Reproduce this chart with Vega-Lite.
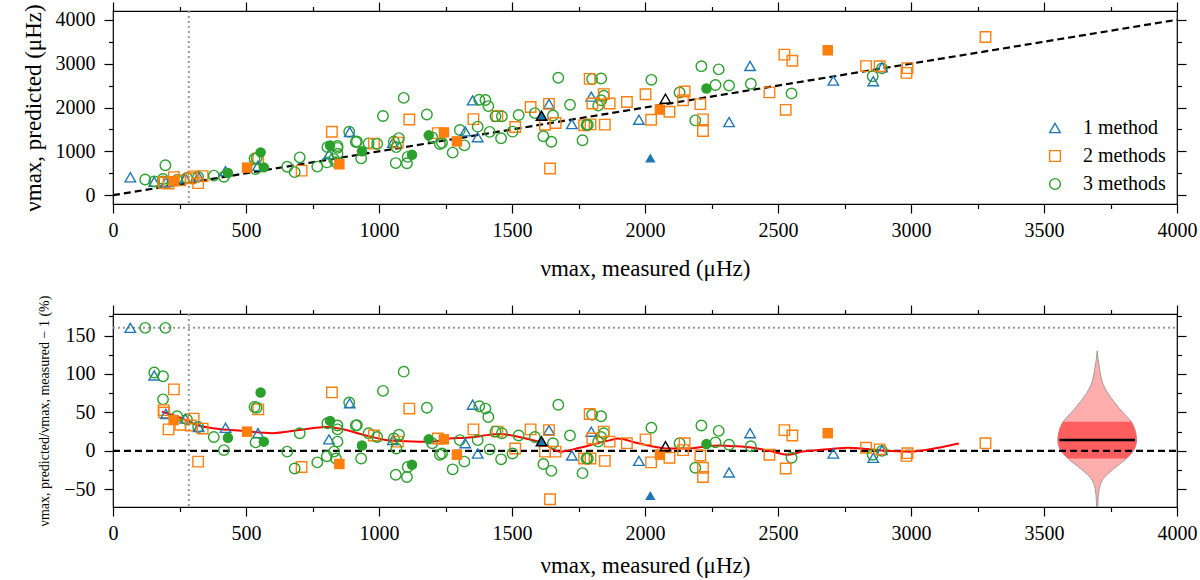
{
  "$schema": "https://vega.github.io/schema/vega-lite/v6.json",
  "padding": {"left": 21, "top": 0, "right": 2, "bottom": 5},
  "datasets": {
    "pts": [
      {"meas":65,"pred":409,"resid":160,"grp":"1 method","fill":0},
      {"meas":121,"pred":357,"resid":160,"grp":"3 methods","fill":0},
      {"meas":197,"pred":682,"resid":160,"grp":"3 methods","fill":0},
      {"meas":155,"pred":307,"resid":98,"grp":"1 method","fill":0},
      {"meas":155,"pred":313,"resid":102,"grp":"3 methods","fill":0},
      {"meas":188,"pred":370,"resid":97,"grp":"3 methods","fill":0},
      {"meas":229,"pred":412,"resid":80,"grp":"2 methods","fill":0},
      {"meas":188,"pred":314,"resid":67,"grp":"3 methods","fill":0},
      {"meas":190,"pred":291,"resid":53,"grp":"2 methods","fill":0},
      {"meas":192,"pred":288,"resid":50,"grp":"2 methods","fill":0},
      {"meas":199,"pred":295,"resid":48,"grp":"1 method","fill":0},
      {"meas":228,"pred":319,"resid":40,"grp":"2 methods","fill":1},
      {"meas":241,"pred":349,"resid":45,"grp":"3 methods","fill":0},
      {"meas":209,"pred":268,"resid":28,"grp":"2 methods","fill":0},
      {"meas":253,"pred":339,"resid":34,"grp":"2 methods","fill":0},
      {"meas":272,"pred":386,"resid":42,"grp":"1 method","fill":0},
      {"meas":278,"pred":392,"resid":41,"grp":"3 methods","fill":0},
      {"meas":303,"pred":430,"resid":42,"grp":"2 methods","fill":0},
      {"meas":292,"pred":388,"resid":33,"grp":"2 methods","fill":0},
      {"meas":320,"pred":419,"resid":31,"grp":"3 methods","fill":0},
      {"meas":322,"pred":422,"resid":31,"grp":"1 method","fill":0},
      {"meas":337,"pred":435,"resid":29,"grp":"2 methods","fill":0},
      {"meas":320,"pred":275,"resid":-14,"grp":"2 methods","fill":0},
      {"meas":379,"pred":447,"resid":18,"grp":"3 methods","fill":0},
      {"meas":423,"pred":550,"resid":30,"grp":"1 method","fill":0},
      {"meas":432,"pred":505,"resid":17,"grp":"3 methods","fill":1},
      {"meas":417,"pred":421,"resid":1,"grp":"3 methods","fill":0},
      {"meas":504,"pred":630,"resid":25,"grp":"2 methods","fill":1},
      {"meas":532,"pred":835,"resid":57,"grp":"3 methods","fill":0},
      {"meas":546,"pred":841,"resid":54,"grp":"2 methods","fill":0},
      {"meas":540,"pred":842,"resid":56,"grp":"3 methods","fill":0},
      {"meas":555,"pred":977,"resid":76,"grp":"3 methods","fill":1},
      {"meas":545,"pred":670,"resid":23,"grp":"1 method","fill":0},
      {"meas":536,"pred":595,"resid":11,"grp":"3 methods","fill":0},
      {"meas":567,"pred":635,"resid":12,"grp":"3 methods","fill":1},
      {"meas":655,"pred":648,"resid":-1,"grp":"3 methods","fill":0},
      {"meas":702,"pred":863,"resid":23,"grp":"3 methods","fill":0},
      {"meas":709,"pred":560,"resid":-21,"grp":"2 methods","fill":0},
      {"meas":683,"pred":526,"resid":-23,"grp":"3 methods","fill":0},
      {"meas":768,"pred":653,"resid":-15,"grp":"3 methods","fill":0},
      {"meas":823,"pred":1448,"resid":76,"grp":"2 methods","fill":0},
      {"meas":804,"pred":748,"resid":-7,"grp":"3 methods","fill":0},
      {"meas":812,"pred":934,"resid":15,"grp":"1 method","fill":0},
      {"meas":806,"pred":1096,"resid":36,"grp":"3 methods","fill":0},
      {"meas":816,"pred":1134,"resid":39,"grp":"3 methods","fill":1},
      {"meas":844,"pred":1123,"resid":33,"grp":"3 methods","fill":0},
      {"meas":844,"pred":1080,"resid":28,"grp":"3 methods","fill":0},
      {"meas":844,"pred":945,"resid":12,"grp":"3 methods","fill":0},
      {"meas":831,"pred":823,"resid":-1,"grp":"3 methods","fill":0},
      {"meas":838,"pred":754,"resid":-10,"grp":"3 methods","fill":0},
      {"meas":851,"pred":706,"resid":-17,"grp":"2 methods","fill":1},
      {"meas":888,"pred":1447,"resid":63,"grp":"3 methods","fill":0},
      {"meas":890,"pred":1442,"resid":62,"grp":"1 method","fill":0},
      {"meas":913,"pred":1214,"resid":33,"grp":"3 methods","fill":0},
      {"meas":917,"pred":1224,"resid":33.5,"grp":"3 methods","fill":0},
      {"meas":936,"pred":1002,"resid":7,"grp":"3 methods","fill":1},
      {"meas":933,"pred":840,"resid":-10,"grp":"3 methods","fill":0},
      {"meas":961,"pred":1182,"resid":23,"grp":"3 methods","fill":0},
      {"meas":981,"pred":1177,"resid":20,"grp":"2 methods","fill":0},
      {"meas":993,"pred":1172,"resid":18,"grp":"3 methods","fill":0},
      {"meas":1015,"pred":1807,"resid":78,"grp":"3 methods","fill":0},
      {"meas":1093,"pred":2219,"resid":103,"grp":"3 methods","fill":0},
      {"meas":1114,"pred":1727,"resid":55,"grp":"2 methods","fill":0},
      {"meas":1180,"pred":1841,"resid":56,"grp":"3 methods","fill":0},
      {"meas":1052,"pred":1199,"resid":14,"grp":"1 method","fill":0},
      {"meas":1056,"pred":1225,"resid":16,"grp":"3 methods","fill":0},
      {"meas":1071,"pred":1200,"resid":12,"grp":"2 methods","fill":0},
      {"meas":1075,"pred":1301,"resid":21,"grp":"3 methods","fill":0},
      {"meas":1065,"pred":1097,"resid":3,"grp":"3 methods","fill":0},
      {"meas":1063,"pred":733,"resid":-31,"grp":"3 methods","fill":0},
      {"meas":1108,"pred":875,"resid":-21,"grp":"3 methods","fill":0},
      {"meas":1105,"pred":729,"resid":-34,"grp":"3 methods","fill":0},
      {"meas":1124,"pred":922,"resid":-18,"grp":"3 methods","fill":1},
      {"meas":1187,"pred":1365,"resid":15,"grp":"3 methods","fill":1},
      {"meas":1200,"pred":1320,"resid":10,"grp":"3 methods","fill":0},
      {"meas":1221,"pred":1416,"resid":16,"grp":"2 methods","fill":0},
      {"meas":1244,"pred":1431,"resid":15,"grp":"2 methods","fill":1},
      {"meas":1237,"pred":1194,"resid":-3.5,"grp":"3 methods","fill":0},
      {"meas":1229,"pred":1168,"resid":-5,"grp":"3 methods","fill":0},
      {"meas":1293,"pred":1228,"resid":-5,"grp":"2 methods","fill":1},
      {"meas":1277,"pred":971,"resid":-24,"grp":"3 methods","fill":0},
      {"meas":1321,"pred":1136,"resid":-14,"grp":"3 methods","fill":0},
      {"meas":1304,"pred":1487,"resid":14,"grp":"3 methods","fill":0},
      {"meas":1324,"pred":1456,"resid":10,"grp":"1 method","fill":0},
      {"meas":1352,"pred":2163,"resid":60,"grp":"1 method","fill":0},
      {"meas":1377,"pred":2176,"resid":58,"grp":"3 methods","fill":0},
      {"meas":1400,"pred":2170,"resid":55,"grp":"3 methods","fill":0},
      {"meas":1411,"pred":2032,"resid":44,"grp":"3 methods","fill":0},
      {"meas":1355,"pred":1734,"resid":28,"grp":"2 methods","fill":0},
      {"meas":1371,"pred":1563,"resid":14,"grp":"3 methods","fill":0},
      {"meas":1371,"pred":1323,"resid":-3.5,"grp":"1 method","fill":0},
      {"meas":1416,"pred":1444,"resid":2,"grp":"3 methods","fill":0},
      {"meas":1459,"pred":1299,"resid":-11,"grp":"3 methods","fill":0},
      {"meas":1445,"pred":1806,"resid":25,"grp":"2 methods","fill":0},
      {"meas":1438,"pred":1798,"resid":25,"grp":"3 methods","fill":0},
      {"meas":1462,"pred":1798,"resid":23,"grp":"3 methods","fill":0},
      {"meas":1512,"pred":1557,"resid":3,"grp":"2 methods","fill":0},
      {"meas":1502,"pred":1449,"resid":-3.5,"grp":"3 methods","fill":0},
      {"meas":1525,"pred":1830,"resid":20,"grp":"3 methods","fill":0},
      {"meas":1570,"pred":2010,"resid":28,"grp":"2 methods","fill":0},
      {"meas":1586,"pred":1871,"resid":18,"grp":"3 methods","fill":0},
      {"meas":1611,"pred":1812,"resid":12.5,"grp":"1 method","fill":1,"edge":1},
      {"meas":1639,"pred":2082,"resid":27,"grp":"1 method","fill":0},
      {"meas":1639,"pred":2082,"resid":27,"grp":"2 methods","fill":0},
      {"meas":1654,"pred":1819,"resid":10,"grp":"3 methods","fill":0},
      {"meas":1624,"pred":1608,"resid":-1,"grp":"2 methods","fill":0},
      {"meas":1664,"pred":1647,"resid":-1,"grp":"2 methods","fill":0},
      {"meas":1618,"pred":1343,"resid":-17,"grp":"3 methods","fill":0},
      {"meas":1648,"pred":1220,"resid":-26,"grp":"3 methods","fill":0},
      {"meas":1643,"pred":608,"resid":-63,"grp":"2 methods","fill":0},
      {"meas":1674,"pred":2678,"resid":60,"grp":"3 methods","fill":0},
      {"meas":1725,"pred":1622,"resid":-6,"grp":"1 method","fill":0},
      {"meas":1718,"pred":2062,"resid":20,"grp":"3 methods","fill":0},
      {"meas":1765,"pred":1253,"resid":-29,"grp":"3 methods","fill":0},
      {"meas":1771,"pred":1594,"resid":-10,"grp":"2 methods","fill":0},
      {"meas":1780,"pred":1602,"resid":-10,"grp":"3 methods","fill":0},
      {"meas":1801,"pred":2647,"resid":47,"grp":"3 methods","fill":0},
      {"meas":1792,"pred":2652,"resid":48,"grp":"2 methods","fill":0},
      {"meas":1835,"pred":2661,"resid":45,"grp":"3 methods","fill":0},
      {"meas":1798,"pred":2248,"resid":25,"grp":"1 method","fill":0},
      {"meas":1845,"pred":2269,"resid":23,"grp":"3 methods","fill":0},
      {"meas":1845,"pred":2306,"resid":25,"grp":"2 methods","fill":0},
      {"meas":1824,"pred":2043,"resid":12,"grp":"3 methods","fill":0},
      {"meas":1835,"pred":2165,"resid":18,"grp":"3 methods","fill":0},
      {"meas":1802,"pred":2090,"resid":16,"grp":"2 methods","fill":0},
      {"meas":1795,"pred":1616,"resid":-10,"grp":"2 methods","fill":0},
      {"meas":1785,"pred":1607,"resid":-10,"grp":"3 methods","fill":0},
      {"meas":1849,"pred":1609,"resid":-13,"grp":"2 methods","fill":0},
      {"meas":1867,"pred":2091,"resid":12,"grp":"2 methods","fill":0},
      {"meas":1932,"pred":2125,"resid":10,"grp":"2 methods","fill":0},
      {"meas":1977,"pred":1720,"resid":-13,"grp":"1 method","fill":0},
      {"meas":2020,"pred":848,"resid":-58,"grp":"1 method","fill":1},
      {"meas":2002,"pred":2302,"resid":15,"grp":"2 methods","fill":0},
      {"meas":2024,"pred":2631,"resid":30,"grp":"3 methods","fill":0},
      {"meas":2023,"pred":1720,"resid":-15,"grp":"2 methods","fill":0},
      {"meas":2056,"pred":1953,"resid":-5,"grp":"2 methods","fill":1},
      {"meas":2077,"pred":2202,"resid":6,"grp":"1 method","fill":0,"edge":1},
      {"meas":2092,"pred":1904,"resid":-9,"grp":"2 methods","fill":0},
      {"meas":2130,"pred":2343,"resid":10,"grp":"3 methods","fill":0},
      {"meas":2149,"pred":2364,"resid":10,"grp":"2 methods","fill":0},
      {"meas":2143,"pred":2164,"resid":1,"grp":"2 methods","fill":0},
      {"meas":2189,"pred":1707,"resid":-22,"grp":"3 methods","fill":0},
      {"meas":2208,"pred":2076,"resid":-6,"grp":"2 methods","fill":0},
      {"meas":2218,"pred":1730,"resid":-22,"grp":"2 methods","fill":0},
      {"meas":2218,"pred":1464,"resid":-34,"grp":"2 methods","fill":0},
      {"meas":2212,"pred":2942,"resid":33,"grp":"3 methods","fill":0},
      {"meas":2231,"pred":2432,"resid":9,"grp":"3 methods","fill":1},
      {"meas":2265,"pred":2514,"resid":11,"grp":"3 methods","fill":0},
      {"meas":2277,"pred":2869,"resid":26,"grp":"3 methods","fill":0},
      {"meas":2316,"pred":2501,"resid":8,"grp":"3 methods","fill":0},
      {"meas":2316,"pred":1668,"resid":-28,"grp":"1 method","fill":0},
      {"meas":2395,"pred":2946,"resid":23,"grp":"1 method","fill":0},
      {"meas":2398,"pred":2542,"resid":6,"grp":"3 methods","fill":0},
      {"meas":2468,"pred":2345,"resid":-5,"grp":"2 methods","fill":0},
      {"meas":2524,"pred":3205,"resid":27,"grp":"2 methods","fill":0},
      {"meas":2554,"pred":3065,"resid":20,"grp":"2 methods","fill":0},
      {"meas":2551,"pred":2321,"resid":-9,"grp":"3 methods","fill":0},
      {"meas":2529,"pred":1947,"resid":-23,"grp":"2 methods","fill":0},
      {"meas":2687,"pred":3305,"resid":23,"grp":"2 methods","fill":1},
      {"meas":2708,"pred":2613,"resid":-3.5,"grp":"1 method","fill":0},
      {"meas":2831,"pred":2944,"resid":4,"grp":"2 methods","fill":0},
      {"meas":2856,"pred":2713,"resid":-5,"grp":"3 methods","fill":0},
      {"meas":2858,"pred":2601,"resid":-9,"grp":"1 method","fill":0},
      {"meas":2891,"pred":2891,"resid":0,"grp":"3 methods","fill":0},
      {"meas":2891,"pred":2920,"resid":1,"grp":"1 method","fill":0},
      {"meas":2882,"pred":2940,"resid":2,"grp":"2 methods","fill":0},
      {"meas":2987,"pred":2897,"resid":-3,"grp":"2 methods","fill":0},
      {"meas":2983,"pred":2789,"resid":-6.5,"grp":"2 methods","fill":0},
      {"meas":3280,"pred":3608,"resid":10,"grp":"2 methods","fill":0}
    ],
    "red": [
      {"meas":184,"resid":51},{"meas":246,"resid":44},{"meas":322,"resid":33},{"meas":385,"resid":29},
      {"meas":485,"resid":26},{"meas":598,"resid":23},{"meas":700,"resid":27},{"meas":800,"resid":31},
      {"meas":851,"resid":29},{"meas":951,"resid":20},{"meas":1051,"resid":13},{"meas":1151,"resid":12},
      {"meas":1200,"resid":12},{"meas":1265,"resid":16},{"meas":1328,"resid":17},{"meas":1453,"resid":22},
      {"meas":1528,"resid":18},{"meas":1616,"resid":10},{"meas":1680,"resid":-1},{"meas":1754,"resid":4},
      {"meas":1811,"resid":9},{"meas":1870,"resid":14},{"meas":1899,"resid":16},{"meas":1962,"resid":11},
      {"meas":2025,"resid":6},{"meas":2088,"resid":3},{"meas":2151,"resid":3},{"meas":2214,"resid":5},
      {"meas":2278,"resid":7},{"meas":2339,"resid":6},{"meas":2404,"resid":4},{"meas":2467,"resid":0},
      {"meas":2540,"resid":-5},{"meas":2591,"resid":-1},{"meas":2653,"resid":1},{"meas":2716,"resid":3},
      {"meas":2760,"resid":4},{"meas":2842,"resid":2},{"meas":2905,"resid":0},{"meas":2993,"resid":-1},
      {"meas":3056,"resid":1},{"meas":3119,"resid":5},{"meas":3180,"resid":9.5}
    ],
    "violin": [
      {"resid":130,"lo":3700,"hi":3700},
      {"resid":120,"lo":3697,"hi":3703},
      {"resid":107,"lo":3691,"hi":3709},
      {"resid":95,"lo":3685,"hi":3715},
      {"resid":86,"lo":3677,"hi":3723},
      {"resid":75,"lo":3660,"hi":3740},
      {"resid":64,"lo":3637,"hi":3763},
      {"resid":51,"lo":3606,"hi":3794},
      {"resid":38,"lo":3572,"hi":3828},
      {"resid":25,"lo":3556,"hi":3844},
      {"resid":14,"lo":3552,"hi":3848},
      {"resid":3,"lo":3559,"hi":3841},
      {"resid":-10,"lo":3590,"hi":3810},
      {"resid":-23,"lo":3637,"hi":3763},
      {"resid":-36,"lo":3677,"hi":3723},
      {"resid":-49,"lo":3692,"hi":3708},
      {"resid":-66,"lo":3697,"hi":3703},
      {"resid":-80,"lo":3698,"hi":3702}
    ]
  },
  "vconcat": [
    {
      "width": 1064,
      "height": 193,
      "layer": [
        {
          "data": {"values": [{"meas":0,"pred":0},{"meas":4000,"pred":4000}]},
          "mark": {"type":"line","color":"black","strokeDash":[7,4],"strokeWidth":2.2,"clip":true},
          "encoding": {
            "x": {"field":"meas","type":"quantitative","scale":{"domain":[0,4000],"nice":false},
                  "axis":{"orient":"bottom","values":[0,500,1000,1500,2000,2500,3000,3500,4000],"format":"d","tickSize":9,"labelPadding":7,"title":"νmax, measured (μHz)","titlePadding":17}},
            "y": {"field":"pred","type":"quantitative","scale":{"domain":[-200,4200],"nice":false},
                  "axis":{"orient":"left","values":[0,1000,2000,3000,4000],"format":"d","tickSize":9,"labelPadding":9,"title":"νmax, predicted (μHz)","titlePadding":10}}
          }
        },
        {
          "data": {"values": [{"meas":285}]},
          "mark": {"type":"rule","color":"#999999","strokeDash":[2,3],"strokeWidth":2},
          "encoding": {"x": {"field":"meas","type":"quantitative","axis":null}}
        },
        {
          "data": {"name": "pts"},
          "transform": [{"filter": "datum.fill == 0 && !datum.edge"}],
          "mark": {"type":"point","filled":false,"size":110,"strokeWidth":1.4,"opacity":1},
          "encoding": {
            "x": {"field":"meas","type":"quantitative","axis":{"orient":"top","values":[0,500,1000,1500,2000,2500,3000,3500,4000],"tickSize":9,"labels":false,"title":null}},
            "y": {"field":"pred","type":"quantitative","axis":{"orient":"right","values":[0,1000,2000,3000,4000],"tickSize":9,"labels":false,"title":null}},
            "stroke": {"field":"grp","type":"nominal","scale":{"domain":["1 method","2 methods","3 methods"],"range":["#1f77b4","#ff7f0e","#2ca02c"]},
                      "legend":{"orient":"none","legendX":932,"legendY":107,"title":null,"labelFontSize":20,"symbolSize":115,"symbolStrokeWidth":1.4,"rowPadding":8,"labelOffset":18,"padding":0}},
            "shape": {"field":"grp","type":"nominal","scale":{"domain":["1 method","2 methods","3 methods"],"range":["triangle-up","square","circle"]},
                      "legend":{"orient":"none","legendX":932,"legendY":107,"title":null,"labelFontSize":20,"symbolSize":115,"symbolStrokeWidth":1.4,"rowPadding":8,"labelOffset":18,"padding":0}}
          }
        },
        {
          "data": {"name": "pts"},
          "transform": [{"filter": "datum.fill == 1 && !datum.edge"}],
          "mark": {"type":"point","filled":true,"size":110,"opacity":1},
          "encoding": {
            "x": {"field":"meas","type":"quantitative","axis":{"orient":"bottom","values":[250,750,1250,1750,2250,2750,3250,3750],"tickSize":4.5,"labels":false,"title":null}},
            "y": {"field":"pred","type":"quantitative","axis":{"orient":"left","values":[500,1500,2500,3500],"tickSize":4.5,"labels":false,"title":null}},
            "fill": {"field":"grp","type":"nominal","scale":{"domain":["1 method","2 methods","3 methods"],"range":["#1f77b4","#ff7f0e","#2ca02c"]},"legend":null},
            "shape": {"field":"grp","type":"nominal","legend":null}
          }
        },
        {
          "data": {"name": "pts"},
          "transform": [{"filter": "datum.edge == 1"}],
          "mark": {"type":"point","shape":"triangle-up","filled":true,"size":110,"stroke":"black","strokeWidth":1.4,"opacity":1},
          "encoding": {
            "x": {"field":"meas","type":"quantitative","axis":{"orient":"top","values":[250,750,1250,1750,2250,2750,3250,3750],"tickSize":4.5,"labels":false,"title":null}},
            "y": {"field":"pred","type":"quantitative","axis":{"orient":"right","values":[500,1500,2500,3500],"tickSize":4.5,"labels":false,"title":null}},
            "fill": {"condition": {"test": "datum.fill == 1", "value": "#1f77b4"}, "value": "transparent"}
          }
        }
      ],
      "resolve": {"axis": {"x": "independent", "y": "independent"}, "scale": {"fill": "independent"}}
    },
    {
      "width": 1064,
      "height": 193,
      "layer": [
        {
          "data": {"name": "violin"},
          "mark": {"type":"area","orient":"horizontal","interpolate":"monotone","color":"#ffadad","stroke":"#8a8a8a","strokeWidth":0.8,"opacity":1,"clip":true},
          "encoding": {
            "y": {"field":"resid","type":"quantitative","scale":{"domain":[-73,178],"nice":false},"axis":null},
            "x": {"field":"lo","type":"quantitative","scale":{"domain":[0,4000],"nice":false},"axis":null},
            "x2": {"field":"hi"}
          }
        },
        {
          "data": {"name": "violin"},
          "transform": [{"filter": "datum.resid >= -10 && datum.resid <= 38"}],
          "mark": {"type":"area","orient":"horizontal","interpolate":"monotone","color":"#ff5e5e","opacity":1},
          "encoding": {
            "y": {"field":"resid","type":"quantitative","axis":null},
            "x": {"field":"lo","type":"quantitative","axis":null},
            "x2": {"field":"hi"}
          }
        },
        {
          "data": {"values": [{"resid":14,"lo":3558,"hi":3842}]},
          "mark": {"type":"rule","color":"black","strokeWidth":2.5},
          "encoding": {
            "y": {"field":"resid","type":"quantitative","axis":null},
            "x": {"field":"lo","type":"quantitative","axis":null},
            "x2": {"field":"hi"}
          }
        },
        {
          "data": {"values": [{"meas":0,"resid":0},{"meas":4000,"resid":0}]},
          "mark": {"type":"line","color":"black","strokeDash":[7,4],"strokeWidth":2.2},
          "encoding": {
            "x": {"field":"meas","type":"quantitative",
                  "axis":{"orient":"bottom","values":[0,500,1000,1500,2000,2500,3000,3500,4000],"format":"d","tickSize":9,"labelPadding":7,"title":"νmax, measured (μHz)","titlePadding":11}},
            "y": {"field":"resid","type":"quantitative",
                  "axis":{"orient":"left","values":[-50,0,50,100,150],"format":"d","tickSize":9,"labelPadding":9,"title":"νmax, predicted/νmax, measured − 1 (%)","titleFontSize":14,"titlePadding":12}}
          }
        },
        {
          "data": {"values": [{"meas":0,"resid":160},{"meas":4000,"resid":160}]},
          "mark": {"type":"line","color":"#999999","strokeDash":[2,3],"strokeWidth":2},
          "encoding": {
            "x": {"field":"meas","type":"quantitative","axis":{"orient":"top","values":[0,500,1000,1500,2000,2500,3000,3500,4000],"tickSize":9,"labels":false,"title":null}},
            "y": {"field":"resid","type":"quantitative","axis":{"orient":"right","values":[-50,0,50,100,150],"tickSize":9,"labels":false,"title":null}}
          }
        },
        {
          "data": {"values": [{"meas":285}]},
          "mark": {"type":"rule","color":"#999999","strokeDash":[2,3],"strokeWidth":2},
          "encoding": {"x": {"field":"meas","type":"quantitative","axis":null}}
        },
        {
          "data": {"name": "red"},
          "mark": {"type":"line","color":"#ff0000","strokeWidth":2,"interpolate":"monotone"},
          "encoding": {
            "x": {"field":"meas","type":"quantitative","axis":null},
            "y": {"field":"resid","type":"quantitative","axis":null}
          }
        },
        {
          "data": {"name": "pts"},
          "transform": [{"filter": "datum.fill == 0 && !datum.edge"}],
          "mark": {"type":"point","filled":false,"size":110,"strokeWidth":1.4,"opacity":1,"clip":true},
          "encoding": {
            "x": {"field":"meas","type":"quantitative","axis":{"orient":"bottom","values":[250,750,1250,1750,2250,2750,3250,3750],"tickSize":4.5,"labels":false,"title":null}},
            "y": {"field":"resid","type":"quantitative","axis":{"orient":"left","values":[-25,25,75,125,175],"tickSize":4.5,"labels":false,"title":null}},
            "stroke": {"field":"grp","type":"nominal","scale":{"domain":["1 method","2 methods","3 methods"],"range":["#1f77b4","#ff7f0e","#2ca02c"]},"legend":null},
            "shape": {"field":"grp","type":"nominal","scale":{"domain":["1 method","2 methods","3 methods"],"range":["triangle-up","square","circle"]},"legend":null}
          }
        },
        {
          "data": {"name": "pts"},
          "transform": [{"filter": "datum.fill == 1 && !datum.edge"}],
          "mark": {"type":"point","filled":true,"size":110,"opacity":1,"clip":true},
          "encoding": {
            "x": {"field":"meas","type":"quantitative","axis":{"orient":"top","values":[250,750,1250,1750,2250,2750,3250,3750],"tickSize":4.5,"labels":false,"title":null}},
            "y": {"field":"resid","type":"quantitative","axis":{"orient":"right","values":[-25,25,75,125,175],"tickSize":4.5,"labels":false,"title":null}},
            "fill": {"field":"grp","type":"nominal","scale":{"domain":["1 method","2 methods","3 methods"],"range":["#1f77b4","#ff7f0e","#2ca02c"]},"legend":null},
            "shape": {"field":"grp","type":"nominal","legend":null}
          }
        },
        {
          "data": {"name": "pts"},
          "transform": [{"filter": "datum.edge == 1"}],
          "mark": {"type":"point","shape":"triangle-up","filled":true,"size":110,"stroke":"black","strokeWidth":1.4,"opacity":1},
          "encoding": {
            "x": {"field":"meas","type":"quantitative","axis":null},
            "y": {"field":"resid","type":"quantitative","axis":null},
            "fill": {"condition": {"test": "datum.fill == 1", "value": "#1f77b4"}, "value": "transparent"}
          }
        }
      ],
      "resolve": {"axis": {"x": "independent", "y": "independent"}, "scale": {"fill": "independent"}}
    }
  ],
  "spacing": 110,
  "bounds": "flush",
  "resolve": {"scale": {"stroke": "independent", "fill": "independent", "shape": "independent"}, "legend": {"stroke": "independent", "fill": "independent", "shape": "independent"}},
  "config": {
    "font": "Liberation Serif",
    "view": {"stroke": "black", "strokeWidth": 1.2},
    "axis": {
      "labelFont": "Liberation Serif", "titleFont": "Liberation Serif",
      "labelFontSize": 20, "titleFontSize": 23, "titleFontWeight": "normal",
      "labelColor": "black", "titleColor": "black", "tickColor": "black", "tickWidth": 1.2,
      "grid": false, "domain": false, "labelFlush": false, "labelOverlap": false
    },
    "legend": {"labelFont": "Liberation Serif", "labelColor": "black"}
  }
}
